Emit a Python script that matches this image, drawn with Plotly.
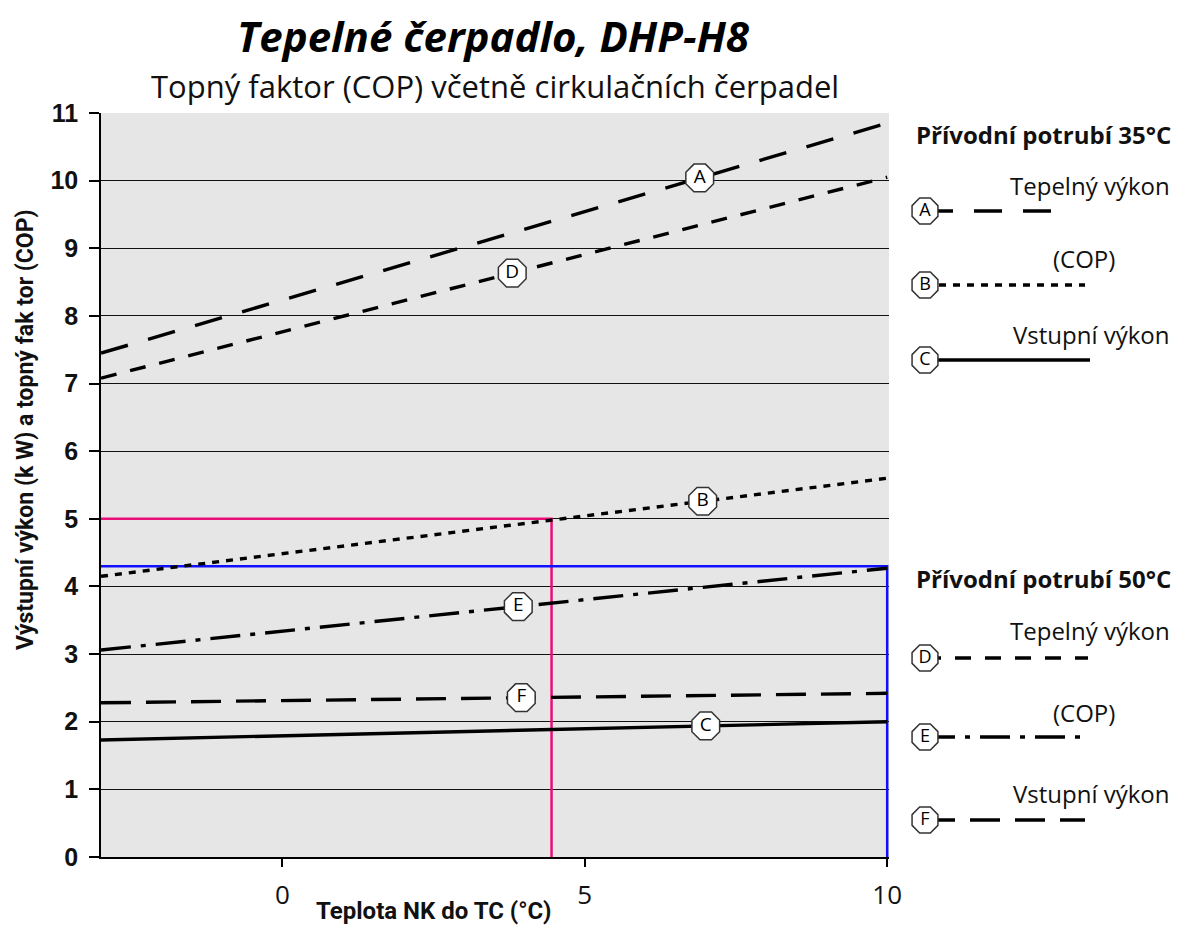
import numpy as np
import plotly.graph_objects as go

# ---------------- data ----------------
x_ends = [-3, 10]
line_A = [7.45, 10.85]   # 35°C Tepelný výkon
line_B = [4.15, 5.60]    # 35°C COP
line_C = [1.73, 2.00]    # 35°C Vstupní výkon
line_D = [7.08, 10.05]   # 50°C Tepelný výkon
line_E = [3.06, 4.27]    # 50°C COP
line_F = [2.28, 2.42]    # 50°C Vstupní výkon

label_names = ["A", "B", "C", "D", "E", "F"]
label_x = [6.9, 6.95, 7.0, 3.8, 3.9, 3.95]

pink_x = [-3, 4.45, 4.45]
pink_y = [5, 5, 0]
blue_x = [-3, 10, 10]
blue_y = [4.3, 4.3, 0]

x_ticks = [0, 5, 10]
y_ticks = list(range(0, 12))

styles = {
    "A": "28px,21px",
    "B": "7px,7px",
    "C": "solid",
    "D": "16px,14px",
    "E": "30px,10px,5px,10px",
    "F": "30px,15px",
}
series = {"A": line_A, "B": line_B, "C": line_C, "D": line_D, "E": line_E, "F": line_F}

# ---------------- geometry (page pixels; page has 8px body offset) ----------------
OFF = 8
W, H = 1165, 920
L, R, T, B = 93, 2, 105, 71
pw, ph = W - L - R, H - T - B


def px_x(px):
    return (px - OFF - L) / pw


def px_y(py):
    return (H - B - (py - OFF)) / ph


main_right = px_x(889)

fig = go.Figure()

# gray plot background for the main chart only
fig.add_shape(type="rect", xref="x domain", yref="y domain", x0=0, x1=1, y0=0, y1=1,
              fillcolor="#e6e6e6", line=dict(width=0), layer="below")

# guide lines
fig.add_trace(go.Scatter(x=pink_x, y=pink_y, mode="lines",
                         line=dict(color="#ea0f78", width=2.5),
                         showlegend=False, hoverinfo="skip"))
fig.add_trace(go.Scatter(x=blue_x, y=blue_y, mode="lines",
                         line=dict(color="#1010ff", width=2.5),
                         showlegend=False, hoverinfo="skip"))

for k in label_names:
    fig.add_trace(go.Scatter(x=x_ends, y=series[k], mode="lines",
                             line=dict(color="black", width=3.4, dash=styles[k]),
                             showlegend=False, hoverinfo="skip"))

# labels on curves
lab_y = [float(np.interp(lx, x_ends, series[k])) for k, lx in zip(label_names, label_x)]
fig.add_trace(go.Scatter(x=label_x, y=lab_y, mode="markers+text", text=label_names,
                         textposition="middle center",
                         textfont=dict(family="Open Sans", size=19, color="black"),
                         marker=dict(symbol="octagon", size=30, color="white",
                                     line=dict(color="#333333", width=1.5)),
                         cliponaxis=False, showlegend=False, hoverinfo="skip"))

# ---------------- legend panel (overlay axis in paper coordinates) ----------------
leg_y = {"A": px_y(211), "B": px_y(285), "C": px_y(360),
         "D": px_y(658), "E": px_y(737), "F": px_y(820)}
leg_end = {"A": px_x(1072), "B": px_x(1085), "C": px_x(1090),
           "D": px_x(1088), "E": px_x(1090), "F": px_x(1085)}
leg_x0 = px_x(925)
for k in label_names:
    fig.add_trace(go.Scatter(x=[leg_x0, leg_end[k]], y=[leg_y[k], leg_y[k]], mode="lines",
                             line=dict(color="black", width=3.4, dash=styles[k]),
                             xaxis="x2", yaxis="y2", showlegend=False, hoverinfo="skip"))
fig.add_trace(go.Scatter(x=[leg_x0] * 6, y=[leg_y[k] for k in label_names], mode="markers+text",
                         text=label_names, textposition="middle center",
                         textfont=dict(family="Open Sans", size=18, color="black"),
                         marker=dict(symbol="octagon", size=28, color="white",
                                     line=dict(color="#333333", width=1.5)),
                         cliponaxis=False, xaxis="x2", yaxis="y2", showlegend=False,
                         hoverinfo="skip"))

leg_texts = [
    ("Přívodní potrubí 35°C", 1173, 135, True),
    ("Tepelný výkon", 1172, 185, False),
    ("(COP)", 1117, 258, False),
    ("Vstupní výkon", 1172, 334, False),
    ("Přívodní potrubí 50°C", 1173, 578, True),
    ("Tepelný výkon", 1172, 630, False),
    ("(COP)", 1117, 712, False),
    ("Vstupní výkon", 1172, 793, False),
]
annotations = []
for txt, ax_, ay_, bold in leg_texts:
    annotations.append(dict(text=txt, x=px_x(ax_), y=px_y(ay_), xref="paper", yref="paper",
                            xanchor="right", yanchor="middle", showarrow=False,
                            font=dict(family="Open Sans", size=24,
                                      color="#111111", weight="bold" if bold else "normal")))

annotations.append(dict(text="<i>Tepelné čerpadlo, DHP-H8</i>", x=px_x(493), y=px_y(36),
                        xref="paper", yref="paper", xanchor="center", yanchor="middle",
                        showarrow=False,
                        font=dict(family="Open Sans", size=42, color="black", weight="bold")))
annotations.append(dict(text="Topný faktor (COP) včetně cirkulačních čerpadel", x=px_x(495),
                        y=px_y(86), xref="paper", yref="paper", xanchor="center",
                        yanchor="middle", showarrow=False,
                        font=dict(family="Open Sans", size=31, color="#111111")))
annotations.append(dict(text="Teplota NK do TC (°C)", x=px_x(433), y=px_y(911),
                        xref="paper", yref="paper", xanchor="center", yanchor="middle",
                        showarrow=False,
                        font=dict(family="Roboto", size=24, color="#111111", weight="bold")))
annotations.append(dict(text="Výstupní výkon (k W) a topný fak tor (COP)", x=px_x(26),
                        y=px_y(430), xref="paper", yref="paper", xanchor="center",
                        yanchor="middle", showarrow=False, textangle=-90,
                        font=dict(family="Roboto", size=23, color="#111111", weight="bold")))

fig.update_layout(
    width=W, height=H,
    margin=dict(l=L, r=R, t=T, b=B, autoexpand=False),
    paper_bgcolor="white",
    plot_bgcolor="rgba(0,0,0,0)",
    showlegend=False,
    annotations=annotations,
    xaxis=dict(domain=[0, main_right], range=[-3, 10.03], tickvals=x_ticks,
               ticks="outside", ticklen=8, tickwidth=1.5, tickcolor="black",
               showline=True, linecolor="black", linewidth=1.5, showgrid=False,
               zeroline=False, ticklabelstandoff=6,
               tickfont=dict(family="Open Sans", size=26, color="#111111")),
    yaxis=dict(range=[0, 11], tickvals=y_ticks, ticks="outside", ticklen=10,
               tickwidth=1.5, tickcolor="black", showline=True, linecolor="black",
               linewidth=1.5, showgrid=True, gridcolor="#111111", gridwidth=1.3,
               zeroline=False, ticklabelstandoff=6,
               tickfont=dict(family="Liberation Sans", size=25, color="#111111",
                             weight="bold")),
    xaxis2=dict(domain=[0, 1], range=[0, 1], visible=False, anchor="y2"),
    yaxis2=dict(domain=[0, 1], range=[0, 1], visible=False, anchor="x2"),
)

fig.write_html("out.html")
